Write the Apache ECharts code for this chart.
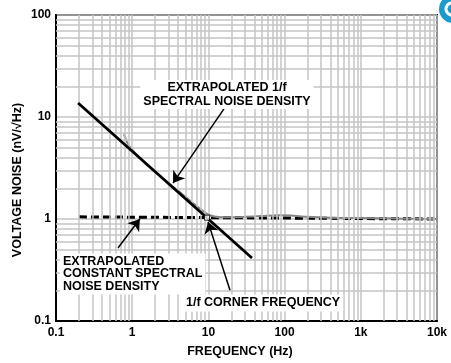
<!DOCTYPE html>
<html>
<head>
<meta charset="utf-8">
<script src="https://cdn.jsdelivr.net/npm/echarts@6/dist/echarts.min.js"></script>
<style>html,body{margin:0;padding:0;background:#fff;}#c{width:451px;height:363px;}</style>
</head>
<body>
<div id="c"></div>
<script>
// Measured noise curve
const measFreq  = [0.78, 0.85, 0.95, 1.1, 1.5, 2, 3, 4, 5, 6, 7, 8, 9, 10, 12, 15, 20, 30, 50, 80, 120, 200, 400, 1000, 3000, 10000];
const measNoise = [6.8, 5.7, 5.0, 4.4, 3.5, 2.9, 2.25, 1.9, 1.65, 1.47, 1.34, 1.24, 1.16, 1.1, 1.06, 1.04, 1.04, 1.05, 1.07, 1.09, 1.08, 1.05, 1.03, 1.02, 1.01, 1.0];
// Extrapolated 1/f line
const fitFreq  = [0.195, 37.3];
const fitNoise = [13.7, 0.415];
// Extrapolated constant (white) noise line
const flatFreq  = [0.2, 10000];
const flatNoise = [1.05, 1.0];
// Corner point
const cornerFreq  = [9.6];
const cornerNoise = [1.03];
// Tick labels
const xTickValues = [0.1, 1, 10, 100, 1000, 10000];
const xTickLabels = ['0.1', '1', '10', '100', '1k', '10k'];
const yTickValues = [0.1, 1, 10, 100];
const yTickLabels = ['0.1', '1', '10', '100'];
// Annotation arrows (data coordinates: [freq, noise] start -> tip)
const arrow1 = [[16.0, 12.0], [3.43, 2.25]];
const arrow2 = [[0.65, 0.52], [1.26, 1.0]];
const arrow3 = [[19.2, 0.20], [9.9, 0.935]];

const zip = (a, b) => a.map((v, i) => [v, b[i]]);
const gridColor = '#c4c4c4';
const FONT = '"Liberation Sans", Arial, sans-serif';

function fmt(values, labels) {
  return function (v) {
    for (let i = 0; i < values.length; i++) {
      if (Math.abs(Math.log10(v) - Math.log10(values[i])) < 0.01) return labels[i];
    }
    return '';
  };
}

// minor grid values (2..9 per decade)
const minorX = [], minorY = [];
for (let d = -1; d < 4; d++) for (let m = 2; m <= 9; m++) minorX.push(+(m * Math.pow(10, d)).toPrecision(3));
for (let d = -1; d < 2; d++) for (let m = 2; m <= 9; m++) minorY.push(+(m * Math.pow(10, d)).toPrecision(3));

const chart = echarts.init(document.getElementById('c'), null, {renderer: 'canvas'});

const axisCommon = {
  type: 'log', logBase: 10,
  axisLine: {show: true, lineStyle: {color: '#000', width: 2}},
  axisTick: {show: false},
  minorTick: {show: false},
  splitLine: {show: true, lineStyle: {color: gridColor, width: 1.5}},
};

chart.setOption({
  animation: false,
  backgroundColor: '#fff',
  grid: {left: 56, right: 14, top: 15, bottom: 42, show: true, borderColor: '#000', borderWidth: 2, backgroundColor: '#fff'},
  xAxis: Object.assign({}, axisCommon, {
    min: 0.1, max: 10000,
    axisLabel: {formatter: fmt(xTickValues, xTickLabels), color: '#000', fontWeight: 'bold', fontSize: 12, fontFamily: FONT, margin: 6}
  }),
  yAxis: Object.assign({}, axisCommon, {
    min: 0.1, max: 100,
    axisLabel: {formatter: fmt(yTickValues, yTickLabels), color: '#000', fontWeight: 'bold', fontSize: 12, fontFamily: FONT, margin: 5}
  }),
  series: [
    {
      name: 'minorGrid', type: 'line', z: 1, data: [[1, 1]], showSymbol: false, silent: true,
      lineStyle: {opacity: 0},
      markLine: {
        silent: true, symbol: 'none', label: {show: false}, animation: false,
        lineStyle: {color: gridColor, width: 1.5, type: 'solid'},
        emphasis: {disabled: true},
        data: minorX.map(v => ({xAxis: v})).concat(minorY.map(v => ({yAxis: v})))
      }
    },
    {
      name: 'flat', type: 'line', z: 3, data: zip(flatFreq, flatNoise), showSymbol: false, silent: true,
      lineStyle: {color: '#000', width: 3, type: [8, 4]}
    },
    {
      name: 'measured', type: 'line', z: 4, data: zip(measFreq, measNoise), showSymbol: false, silent: true, smooth: 0.3,
      lineStyle: {color: '#858585', width: 2}
    },
    {
      name: 'fit', type: 'line', z: 5, data: zip(fitFreq, fitNoise), showSymbol: false, silent: true,
      lineStyle: {color: '#000', width: 2.8}
    },
    {
      name: 'corner', type: 'scatter', z: 6, data: zip(cornerFreq, cornerNoise), silent: true,
      symbol: 'rect', symbolSize: 5, itemStyle: {color: '#fff', borderColor: '#000', borderWidth: 1}
    },
    {
      name: 'arrows', type: 'line', z: 7, data: [[1, 1]], showSymbol: false, silent: true,
      lineStyle: {opacity: 0},
      markLine: {
        silent: true, symbol: ['none', 'arrow'], symbolSize: 11, label: {show: false}, animation: false,
        lineStyle: {color: '#000', width: 1.5, type: 'solid'},
        itemStyle: {color: '#000'},
        emphasis: {disabled: true},
        data: [arrow1, arrow2, arrow3].map(a => [{coord: a[0]}, {coord: a[1]}])
      }
    }
  ],
  graphic: [
    {
      type: 'text', z: 100, x: 227, y: 94.5,
      style: {text: 'EXTRAPOLATED 1/f\nSPECTRAL NOISE DENSITY', fill: '#000', fontWeight: 'bold', fontSize: 12.5, fontFamily: FONT,
        align: 'center', verticalAlign: 'middle', lineHeight: 13.5, backgroundColor: '#fff', padding: [1, 3, 1, 3]}
    },
    {
      type: 'text', z: 100, x: 60, y: 274,
      style: {text: 'EXTRAPOLATED\nCONSTANT SPECTRAL\nNOISE DENSITY', fill: '#000', fontWeight: 'bold', fontSize: 12.5, fontFamily: FONT,
        align: 'left', verticalAlign: 'middle', lineHeight: 12.3, backgroundColor: '#fff', padding: [2, 3, 2, 3]}
    },
    {
      type: 'text', z: 100, x: 183, y: 303,
      style: {text: '1/f CORNER FREQUENCY', fill: '#000', fontWeight: 'bold', fontSize: 12.5, fontFamily: FONT,
        align: 'left', verticalAlign: 'middle', backgroundColor: '#fff', padding: [2, 3, 2, 3]}
    },
    {
      type: 'text', z: 100, x: 240, y: 352,
      style: {text: 'FREQUENCY (Hz)', fill: '#000', fontWeight: 'bold', fontSize: 12.5, fontFamily: FONT,
        align: 'center', verticalAlign: 'middle'}
    },
    {
      type: 'text', z: 100, x: 18, y: 180, rotation: Math.PI / 2,
      style: {text: 'VOLTAGE NOISE (nV/√Hz)', fill: '#000', fontWeight: 'bold', fontSize: 12.5, fontFamily: FONT,
        align: 'center', verticalAlign: 'middle'}
    },
    {
      type: 'circle', z: 100, shape: {cx: 453, cy: 9, r: 14}, style: {fill: '#1a9bcb'}
    },
    {
      type: 'arc', z: 101, shape: {cx: 452, cy: 9, r: 6, startAngle: 0.3, endAngle: 5.6}, style: {stroke: '#fff', lineWidth: 3, fill: null}
    }
  ]
});
</script>
</body>
</html>
